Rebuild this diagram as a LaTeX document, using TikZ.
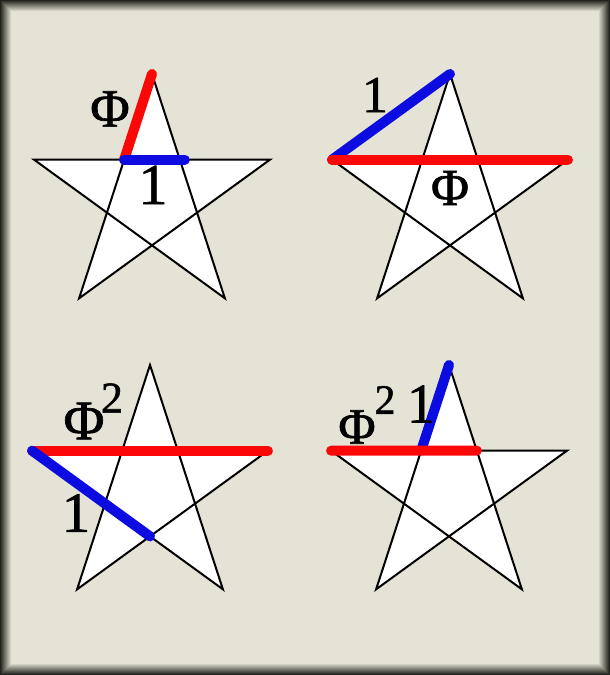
\documentclass[tikz,border=0pt]{standalone}
\usepackage{fontspec}
\setmainfont[FakeBold=1.2]{Liberation Serif}
\newfontfamily\heavy[FakeBold=1.2]{Liberation Serif}
\usetikzlibrary{calc}
\definecolor{paper}{RGB}{229,227,213}
\definecolor{rim}{RGB}{34,34,28}
\definecolor{penred}{RGB}{250,8,8}
\definecolor{penblue}{RGB}{12,12,225}
\newcommand{\sz}[1]{\heavy\fontsize{#1}{#1}\selectfont}
% star #1 with centre (#2,#3): tips t0..t4, inner crossings i0..i4
\newcommand{\pentastar}[3]{%
\foreach \k in {0,...,4}{
  \coordinate (#1-t\k) at ($(#2,#3)+(90+72*\k:124)$);
  \coordinate (#1-i\k) at ($(#2,#3)+(126+72*\k:47.4)$);
}
\filldraw[star] (#1-t0) -- (#1-t2) -- (#1-t4) -- (#1-t1) -- (#1-t3) -- cycle;
}

\begin{document}
\begin{tikzpicture}[x=1pt,y=1pt,
  star/.style={fill=white,draw=black,line width=2pt,line join=miter},
  redpen/.style={draw=penred,line width=10pt,line cap=round},
  bluepen/.style={draw=penblue,line width=10pt,line cap=round},
  lbl/.style={inner sep=0pt,text=black}]
% frame
\foreach \i in {0,...,11}{
  \pgfmathtruncatemacro\p{\i*9}
  \fill[paper!\p!rim] (\i,\i) rectangle (610-\i,675-\i);
}
\fill[paper] (12,12) rectangle (598,663);
\useasboundingbox (0,0) rectangle (610,675);
% stars
\pentastar{A}{152}{477}
\pentastar{B}{450}{477}
\pentastar{C}{150}{186}
\pentastar{D}{449}{186}
% top left
\draw[redpen] (A-i0) -- (A-t0);
\draw[bluepen] (A-i0) -- ($(A-i4)+(5,0)$);
\node[lbl,font=\sz{54}] (phiA) at (110,566) {Φ};
\node[lbl,font=\sz{58}] (oneA) at (153,490) {1};
% top right
\draw[bluepen] (B-t1) -- (B-t0);
\draw[redpen] (B-t1) -- (B-t4);
\node[lbl,font=\sz{52}] (oneB) at (375,580) {1};
\node[lbl,font=\sz{52}] (phiB) at (450,487) {Φ};
% bottom left
\draw[redpen] (C-t1) -- (C-t4);
\draw[bluepen] (C-t1) -- (C-i2);
\node[lbl,font=\sz{56}] (phiC) at (84,254) {Φ};
\node[lbl,font=\sz{44}] (twoC) at (112,277) {2};
\node[lbl,font=\sz{57}] (oneC) at (76,162) {1};
% bottom right
\draw[bluepen] (D-i0) -- (D-t0);
\draw[redpen] (D-t1) -- (D-i4);
\node[lbl,font=\sz{51}] (phiD) at (357,248) {Φ};
\node[lbl,font=\sz{42}] (twoD) at (385,275) {2};
\node[lbl,font=\sz{56}] (oneD) at (421,271) {1};
\end{tikzpicture}
\end{document}
